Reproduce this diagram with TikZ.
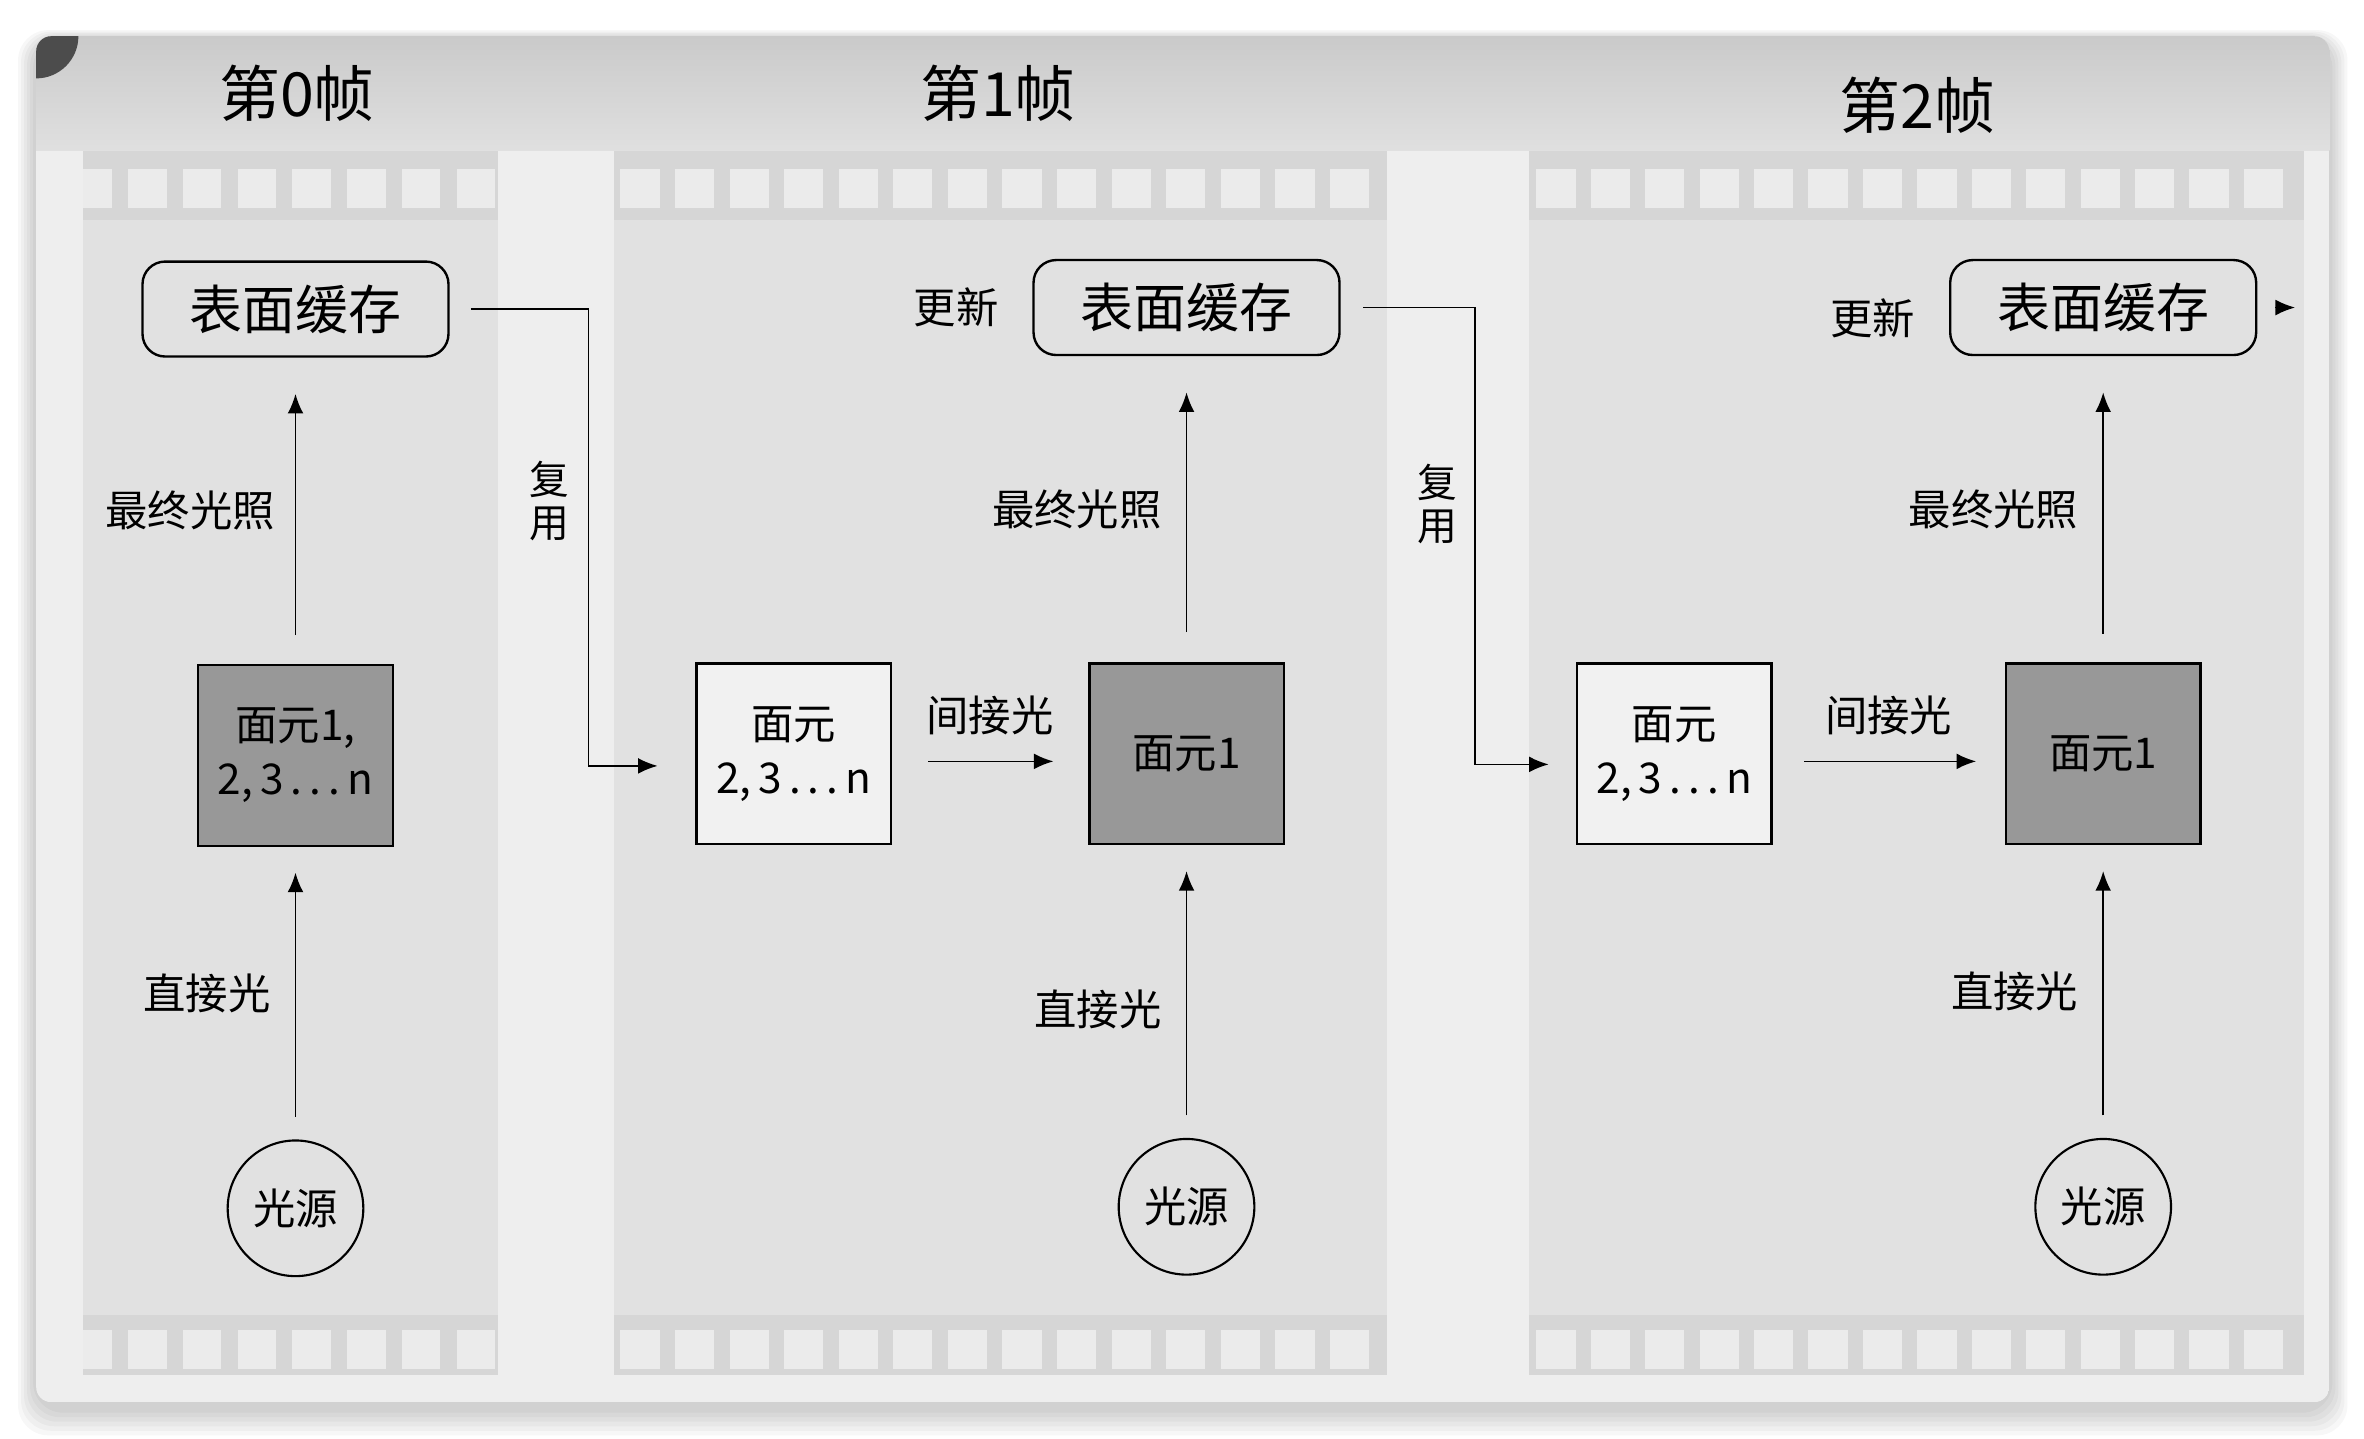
\documentclass[tikz,border=0pt]{standalone}
\usepackage{fontspec}
\setmainfont{Noto Sans CJK SC}
\usetikzlibrary{positioning,arrows.meta}
\definecolor{paper}{RGB}{238,238,238}
\definecolor{film}{RGB}{225,225,225}
\definecolor{band}{RGB}{214,214,214}
\definecolor{hole}{RGB}{235,235,235}
\definecolor{topshade}{RGB}{202,202,202}
\definecolor{patchdark}{RGB}{152,152,152}
\definecolor{patchlight}{RGB}{241,241,241}
\tikzset{
    cache/.style={rectangle,draw,line width=0.9pt,rounded corners=0.3cm,minimum width=4.06cm,minimum height=1.26cm,font=\fontsize{20}{24}\selectfont},
    darkpatch/.style={rectangle,draw,line width=0.9pt,fill=patchdark,minimum width=2.58cm,minimum height=2.4cm,align=center,font=\fontsize{16}{20.5}\selectfont},
    lightpatch/.style={darkpatch,fill=patchlight},
    lamp/.style={circle,draw,line width=0.8pt,minimum size=1.8cm,font=\fontsize{16}{20}\selectfont},
    lbl/.style={inner sep=0pt,font=\fontsize{16}{20}\selectfont},
    vlbl/.style={inner sep=0pt,align=center,font=\fontsize{15}{16}\selectfont},
    title/.style={font=\fontsize{23}{28}\selectfont},
    arr/.style={-{Latex[length=2.6mm,width=2.1mm]},line width=0.65pt},
}
\newcommand{\rest}{2,\,3\,.\,.\,.\,n}

\begin{document}
\begin{tikzpicture}[x=0.02cm,y=-0.02cm]
\useasboundingbox (0,0) rectangle (1568,954);
\fill[white] (0,0) rectangle (1568,954);
% card with soft shadow
\foreach \s in {1,...,6}
  \fill[black,opacity=0.03,rounded corners=0.4cm] ({24-2*\s},{26-\s}) rectangle ({1545+2*\s},{934+3*\s});
\begin{scope}
\clip[rounded corners=0.2cm] (24,24) rectangle (1545,930);
\fill[paper] (24,24) rectangle (1545,930);
\shade[top color=topshade,bottom color=paper!94!black] (24,24) rectangle (1545,100);
% film strips
\foreach \xa/\xb in {55/330,407/920,1014/1528} {
  \fill[film] (\xa,100) rectangle (\xb,912);
  \fill[band] (\xa,100) rectangle (\xb,146);
  \fill[band] (\xa,872) rectangle (\xb,912);
}
\fill[hole] (55,112) rectangle (74,138);
\fill[hole] (55,882) rectangle (74,908);
\foreach \k in {1,...,7} {
  \fill[hole] ({48.7+36.3*\k},112) rectangle ++(25.5,26);
  \fill[hole] ({48.7+36.3*\k},882) rectangle ++(25.5,26);
}
\foreach \k in {0,...,13} {
  \fill[hole] ({411.5+36.2*\k},112) rectangle ++(26,26);
  \fill[hole] ({411.5+36.2*\k},882) rectangle ++(26,26);
  \fill[hole] ({1019+36.1*\k},112) rectangle ++(26,26);
  \fill[hole] ({1019+36.1*\k},882) rectangle ++(26,26);
}
\fill[black!70] (24,24) circle (28);
\end{scope}

% frame 0
\node[title] (t0) at (197,62) {第0帧};
\node[darkpatch] (p0) at (196,501) {面元1,\\\rest};
\node[cache,above=4.06cm of p0] (c0) {表面缓存};
\node[lamp,below=3.88cm of p0] (s0) {光源};
\draw[arr,shorten <=0.38cm,shorten >=0.48cm] (p0) -- node[lbl,left=0.26cm]{最终光照} (c0);
\draw[arr,shorten <=0.3cm,shorten >=0.34cm] (s0) -- node[lbl,left=0.32cm]{直接光} (p0);

% frame 1
\node[title] (t1) at (662,62) {第1帧};
\node[darkpatch] (d1) at (787,500) {面元1};
\node[lightpatch,left=2.6cm of d1] (l1) {面元\\\rest};
\node[cache,above=4.06cm of d1] (c1) {表面缓存};
\node[lbl,left=0.44cm of c1] (u1) {更新};
\node[lamp,below=3.88cm of d1] (s1) {光源};
\draw[arr,shorten <=0.4cm,shorten >=0.48cm] (d1) -- node[lbl,left=0.32cm]{最终光照} (c1);
\draw[arr,shorten <=0.3cm,shorten >=0.34cm] (s1) -- node[lbl,left=0.32cm,pos=0.44]{直接光} (d1);
\draw[arr,shorten <=0.48cm,shorten >=0.46cm] ([yshift=-0.1cm]l1.east) -- node[lbl,above=0.34cm]{间接光} ([yshift=-0.1cm]d1.west);
\draw[arr,shorten <=0.28cm,shorten >=0.5cm] (c0.east) -- ++(1.84cm,0) |- node[vlbl,pos=0.21,left=0.24cm]{复\\用} ([yshift=-0.16cm]l1.west);

% frame 2
\node[title] (t2) at (1272,70) {第2帧};
\node[darkpatch] (d2) at (1395,500) {面元1};
\node[lightpatch,left=3.08cm of d2] (l2) {面元\\\rest};
\node[cache,above=4.06cm of d2] (c2) {表面缓存};
\node[lbl,left=0.44cm of c2,yshift=-0.14cm] (u2) {更新};
\node[lamp,below=3.88cm of d2] (s2) {光源};
\coordinate[right=0.5cm of c2] (o2);
\draw[arr,shorten <=0.38cm,shorten >=0.48cm] (d2) -- node[lbl,left=0.32cm]{最终光照} (c2);
\draw[arr,shorten <=0.3cm,shorten >=0.34cm] (s2) -- node[lbl,left=0.32cm]{直接光} (d2);
\draw[arr,shorten <=0.42cm,shorten >=0.38cm] ([yshift=-0.1cm]l2.east) -- node[lbl,above=0.34cm]{间接光} ([yshift=-0.1cm]d2.west);
\draw[arr,shorten <=0.3cm,shorten >=0.36cm] (c1.east) -- ++(1.78cm,0) |- node[vlbl,pos=0.215,left=0.22cm]{复\\用} ([yshift=-0.14cm]l2.west);
\draw[arr,shorten <=0.24cm] (c2) -- (o2);
\end{tikzpicture}
\end{document}
